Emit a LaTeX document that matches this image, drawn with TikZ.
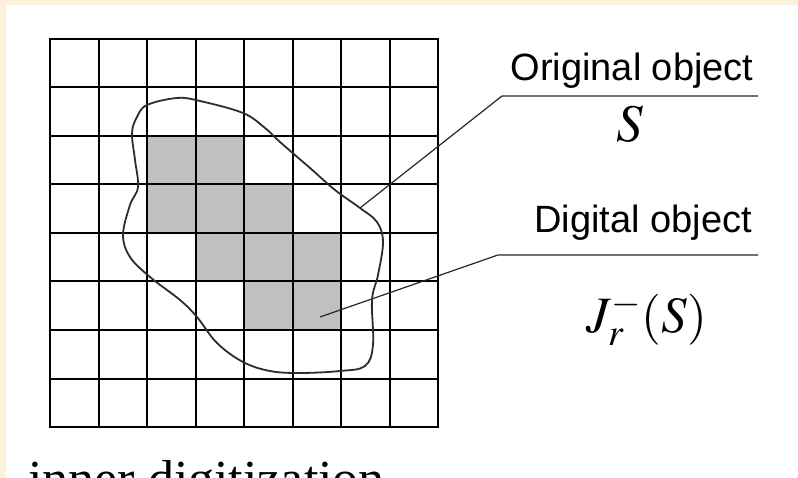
\documentclass[tikz,border=0pt]{standalone}
\usepackage{mathptmx}
\usepackage{fontspec}
\setmainfont{Liberation Serif}
\newfontfamily\arialfont{Liberation Sans}
\definecolor{slidecream}{RGB}{252,241,219}
\definecolor{cellgray}{RGB}{192,192,192}
\definecolor{outlinegray}{RGB}{45,45,45}

\begin{document}
\begin{tikzpicture}[x=1pt, y=-1pt,
        gridline/.style={draw=black, line width=2pt},
        cell/.style={fill=cellgray},
        outline/.style={draw=outlinegray, line width=1.8pt},
        line/.style={draw=black!85, line width=1.2pt},
        caption/.style={font=\arialfont\fontsize{38}{40}\selectfont, anchor=base, inner sep=0pt},
        formula/.style={font=\fontsize{51}{56}\selectfont, inner sep=0pt}]

    \clip (0,0) rectangle (798,478);
    \fill [slidecream] (0,0) rectangle (798,478);
    \fill [white] (6,5) rectangle (798,478);

    % pixel grid, 8x8 cells
    \begin{scope}[shift={(50,39)}, x=48.5pt, y=-48.5pt]
        \path [cell] (2,2) rectangle (4,3);
        \path [cell] (2,3) rectangle (5,4);
        \path [cell] (3,4) rectangle (6,5);
        \path [cell] (4,5) rectangle (6,6);
        \draw [gridline, step=48.5pt] (0,0) grid (8,8);
        \draw [gridline] (0,0) rectangle (8,8);
    \end{scope}

    % original object S
    \draw [outline] plot [smooth cycle, tension=0.6] coordinates {
        (147,105) (177,98) (200,101) (243,113) (265,128) (280,142)
        (310,168) (335,190) (360,208) (377,222) (383,242) (378,275)
        (372,300) (373,345) (365,366) (340,371) (300,373) (270,371)
        (243,362) (217,343) (197,317) (180,300) (150,277) (130,257)
        (123,235) (130,205) (138,187) (135,160) (132,133) (137,117)};

    \coordinate (Stip) at (360,208);
    \coordinate (Sbend) at (502,96);
    \coordinate (Send) at (758,96);
    \coordinate (Jtip) at (320,317);
    \coordinate (Jbend) at (498,255);
    \coordinate (Jend) at (758,255);

    \path [line] (Stip) -- (Sbend) -- (Send);
    \path [line] (Jtip) -- (Jbend) -- (Jend);

    \node [caption] (origlabel) at (632,81) {Original object};
    \node [formula, font=\fontsize{53}{58}\selectfont] (setS) at (630,124) {$S$};
    \node [caption] (digilabel) at (643,233) {Digital object};
    \node [formula, anchor=base] (inner) at (647,333) {$J_r^-(S)$};

    \node [font=\fontsize{52}{56}\selectfont, anchor=base west, inner sep=0pt] (title) at (28,496) {inner digitization};
\end{tikzpicture}
\end{document}
